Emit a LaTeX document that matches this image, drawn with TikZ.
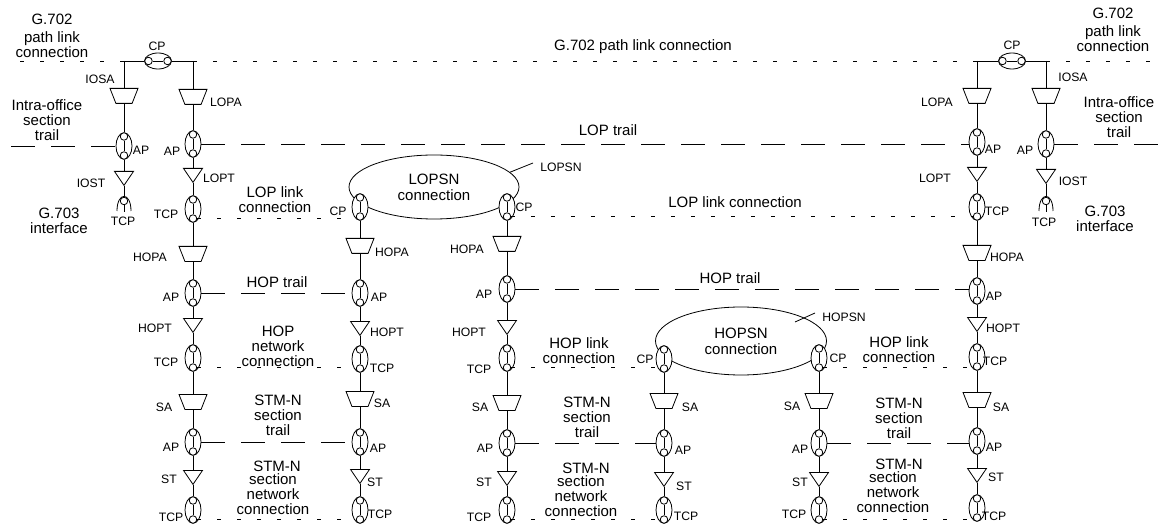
\documentclass[tikz,border=0pt]{standalone}
\usepackage{fontspec}
\setmainfont{Liberation Sans}
\usepackage{tikz}
\usetikzlibrary{
  shapes.geometric,
  positioning
}
\tikzset{
    bigtext/.style={align=center, inner sep=0pt, font=\fontsize{15}{15}\selectfont},
    smalltext/.style={inner sep=0pt, font=\fontsize{12.2}{14}\selectfont},
    tpring/.style={ellipse, draw, fill=white, inner sep=0pt, minimum width=16pt, minimum height=26.5pt},
    cpring/.style={ellipse, draw, fill=white, inner sep=0pt, minimum width=27pt, minimum height=16pt},
    tpdot/.style={circle, draw, fill=white, inner sep=0pt, minimum size=7.5pt},
    adapter/.style={trapezium, draw, fill=white, inner sep=1pt, shape border rotate=180, trapezium stretches=true, trapezium angle=70, minimum width=28pt, minimum height=15pt, anchor=north},
    termination/.style={isosceles triangle, draw, fill=white, inner sep=1pt, shape border rotate=270, isosceles triangle stretches=true, minimum width=19pt, minimum height=14pt, anchor=north},
    subnet/.style={ellipse, draw, inner sep=0pt, align=center, font=\fontsize{15}{15}\selectfont},
    shortdash/.style={dash pattern=on 4pt off 16pt},
    longdash/.style={dash pattern=on 24pt off 16pt}
}
\begin{document}
\begin{tikzpicture}[x=1pt, y=-1pt, line width=0.8pt]
    \useasboundingbox (0,0) rectangle (1164,526);

    \node[subnet, minimum width=170pt, minimum height=64pt] (lopsn) at (434,187) {LOPSN\\[1pt]connection};
    \node[subnet, minimum width=171pt, minimum height=68pt] (hopsn) at (741,341) {HOPSN\\[1pt]connection};

    \foreach \nm/\px/\py in {aAP/124/146, bAP1/193/144, bTCP1/193/209, bAP2/193/293, bTCP2/193/358, bAP3/193/442, bTCP3/193/510,
        cCP/360/207, cAP1/360/293, cTCP1/360/359, cAP2/360/442, cTCP2/360/510,
        dCP/507/207, dAP1/507/289, dTCP1/507/358, dAP2/507/443, dTCP2/507/510,
        eCP/664/359, eAP/664/443, eTCP/664/510,
        fCP/819/358, fAP/819/443, fTCP/819/510,
        gAP1/977/142, gTCP1/977/207, gAP2/977/291, gTCP2/977/357, gAP3/977/441, gTCP3/977/508,
        hAP/1046/144}{
        \node[tpring] (\nm) at (\px,\py) {};
        \node[tpdot] (\nm-t) at ([yshift=9.5pt]\nm.center) {};
        \node[tpdot] (\nm-b) at ([yshift=-9.5pt]\nm.center) {};
        \draw (\nm-t) -- (\nm-b);
    }

    \foreach \nm/\px/\py in {lCP/158/61, rCP/1012/61}{
        \node[cpring] (\nm) at (\px,\py) {};
        \node[tpdot] (\nm-l) at ([xshift=-9.5pt]\nm.center) {};
        \node[tpdot] (\nm-r) at ([xshift=9.5pt]\nm.center) {};
        \draw (\nm-l) -- (\nm-r);
    }

    \foreach \nm/\px/\py in {aIOSA/124/88, bLOPA/193/89, bHOPA/193/246, bSA/193/394,
        cHOPA/360/238, cSA/360/391, dHOPA/507/236, dSA/507/395, eSA/664/393, fSA/819/393,
        gLOPA/977/88, gHOPA/977/245, gSA/977/392, hIOSA/1046/88}{
        \node[adapter] (\nm) at (\px,\py) {};
    }

    \foreach \nm/\px/\py in {aIOST/124/171, bLOPT/193/168, bHOPT/193/318, bST/193/470,
        cHOPT/360/321, cST/360/469, dHOPT/507/320, dST/507/471, eST/664/472, fST/819/472,
        gLOPT/977/167, gHOPT/977/317, gST/977/468, hIOST/1046/169}{
        \node[termination] (\nm) at (\px,\py) {};
    }

    \foreach \nm/\px/\py in {aArch/124/201, hArch/1046/201}{
        \node[tpdot] (\nm) at (\px,\py) {};
        \draw (\nm.south) -- ++(0,7);
        \draw ([shift={(-7pt,-10pt)}]\nm.center) .. controls ([shift={(-7pt,9.5pt)}]\nm.center) and ([shift={(7pt,9.5pt)}]\nm.center) .. ([shift={(7pt,-10pt)}]\nm.center);
    }

    \coordinate (aTop) at (124,61);
    \coordinate (bTop) at (193,61);
    \coordinate (gTop) at (977,61);
    \coordinate (hTop) at (1046,61);
    \coordinate (leftEnd) at (20,61);
    \coordinate (rightEnd) at (1150,61);
    \coordinate (leftTrail) at (11,146);
    \coordinate (rightTrail) at (1158,144);
    \coordinate (lopsnTip) at (533,163);
    \coordinate (hopsnIn) at (795,322);
    \coordinate (hopsnTip) at (815,313);

    \draw (aTop) -- (lCP) -- (bTop);
    \draw (gTop) -- (rCP) -- (hTop);
    \draw (aTop) -- (aIOSA) -- (aAP) -- (aIOST) -- (aArch);
    \draw (hTop) -- (hIOSA) -- (hAP) -- (hIOST) -- (hArch);
    \draw (bTop) -- (bLOPA) -- (bAP1) -- (bLOPT) -- (bTCP1) -- (bHOPA) -- (bAP2) -- (bHOPT) -- (bTCP2) -- (bSA) -- (bAP3) -- (bST) -- (bTCP3);
    \draw (cCP) -- (cHOPA) -- (cAP1) -- (cHOPT) -- (cTCP1) -- (cSA) -- (cAP2) -- (cST) -- (cTCP2);
    \draw (dCP) -- (dHOPA) -- (dAP1) -- (dHOPT) -- (dTCP1) -- (dSA) -- (dAP2) -- (dST) -- (dTCP2);
    \draw (eCP) -- (eSA) -- (eAP) -- (eST) -- (eTCP);
    \draw (fCP) -- (fSA) -- (fAP) -- (fST) -- (fTCP);
    \draw (gTop) -- (gLOPA) -- (gAP1) -- (gLOPT) -- (gTCP1) -- (gHOPA) -- (gAP2) -- (gHOPT) -- (gTCP2) -- (gSA) -- (gAP3) -- (gST) -- (gTCP3);

    \draw[shortdash] (leftEnd) -- (aTop);
    \draw[shortdash] (bTop) -- (gTop);
    \draw[shortdash] (hTop) -- (rightEnd);
    \foreach \from/\to in {bTCP1-b/cCP-b, dCP-b/gTCP1-b, bTCP2-b/cTCP1-b, dTCP1-b/eCP-b, fCP-b/gTCP2-b, bTCP3-b/cTCP2-b, dTCP2-b/eTCP-b, fTCP-b/gTCP3-b}{
        \draw[shortdash] (\from.east) -- (\from.east -| \to.west);
    }

    \draw[longdash] (leftTrail) -- (aAP.west);
    \draw[longdash] (hAP.east) -- (rightTrail);
    \foreach \from/\to in {bAP1/gAP1, bAP2/cAP1, dAP1/gAP2, bAP3/cAP2, dAP2/eAP, fAP/gAP3}{
        \draw[longdash] (\from.east) -- (\from.east -| \to.west);
    }

    \draw (lopsn.11) -- (lopsnTip);
    \draw (hopsnIn) -- (hopsnTip);

    \foreach \px/\py/\txt [count=\i] in {
        52/36/{G.702\\[3pt]path link\\connection}, 643/47/{G.702 path link connection}, 1113/30/{G.702\\[3pt]path link\\connection},
        47/120/{Intra-office\\section\\trail}, 1119/117/{Intra-office\\section\\trail}, 608/130/{LOP trail},
        59/221/{G.703\\interface}, 1105/219/{G.703\\interface},
        275/200/{LOP link\\connection}, 735/202/{LOP link connection},
        277/282/{HOP trail}, 730/278/{HOP trail}, 278/346/{HOP\\network\\connection},
        579/351/{HOP link\\connection}, 899/350/{HOP link\\connection},
        278/415/{STM-N\\section\\trail}, 587/417/{STM-N\\section\\trail}, 899/418/{STM-N\\section\\trail},
        277/466/{STM-N}, 273/494/{section\\network\\connection},
        586/468/{STM-N}, 581/496/{section\\network\\connection},
        899/464/{STM-N}, 893/492/{section\\network\\connection}}{
        \node[bigtext] (bigLbl\i) at (\px,\py) {\txt};
    }

    \foreach \px/\py/\txt [count=\i] in {
        157/46/CP, 100/79/IOSA, 141/150/AP, 91/183/IOST, 123/221/TCP,
        226/102/LOPA, 172/151/AP, 219/178/LOPT, 166/214/TCP, 150/257/HOPA, 171/297/AP, 155/328/HOPT, 166/362/TCP, 164/407/SA, 171/447/AP, 169/479/ST, 171/517/TCP,
        338/211/CP, 392/252/HOPA, 379/297/AP, 387/332/HOPT, 382/368/TCP, 382/403/SA, 378/448/AP, 375/482/ST, 380/514/TCP,
        524/207/CP, 467/249/HOPA, 484/294/AP, 469/332/HOPT, 479/369/TCP, 480/407/SA, 485/448/AP, 484/482/ST, 479/517/TCP,
        561/167/LOPSN, 844/317/HOPSN,
        645/359/CP, 690/407/SA, 683/450/AP, 684/486/ST, 686/516/TCP,
        838/358/CP, 792/406/SA, 800/449/AP, 800/482/ST, 794/514/TCP,
        1012/45/CP, 937/102/LOPA, 993/149/AP, 935/178/LOPT, 997/211/TCP, 1007/257/HOPA, 994/296/AP, 1003/328/HOPT, 995/361/TCP, 1001/407/SA, 994/447/AP, 996/477/ST, 994/516/TCP,
        1073/77/IOSA, 1025/150/AP, 1073/181/IOST, 1044/222/TCP}{
        \node[smalltext] (smallLbl\i) at (\px,\py) {\txt};
    }
\end{tikzpicture}
\end{document}
